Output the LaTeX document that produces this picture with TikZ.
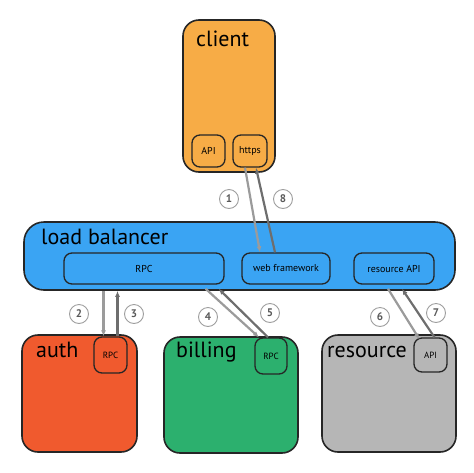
\documentclass[tikz,border=0pt]{standalone}
\usepackage{fontspec}
\setmainfont{PT Sans}
\usetikzlibrary{calc, arrows.meta, positioning}

\definecolor{clientc}{RGB}{247,172,70}
\definecolor{lbc}{RGB}{58,164,243}
\definecolor{authc}{RGB}{240,90,46}
\definecolor{billc}{RGB}{44,176,110}
\definecolor{resc}{RGB}{182,182,182}
\definecolor{reqc}{RGB}{155,155,155}
\definecolor{respc}{RGB}{110,110,110}

\tikzset{
    box/.style={draw=black!85, line width=1.6pt, rounded corners=16pt, inner sep=0pt},
    port/.style={draw=black!85, line width=1.3pt, rounded corners=8pt, inner sep=0pt, font=\fontsize{10}{12}\selectfont},
    title/.style={inner sep=0pt, anchor=base west, font=\fontsize{22}{24}\selectfont},
    req/.style={-{Latex[length=6pt,width=5pt]}, draw=reqc, line width=2.2pt},
    resp/.style={-{Latex[length=6pt,width=5pt]}, draw=respc, line width=2.2pt},
    stepnum/.style={circle, draw=gray!75, line width=0.9pt, fill=white, text=black!65, minimum size=19pt, inner sep=0pt, font=\fontsize{11}{12}\selectfont\bfseries}
}

\begin{document}
\begin{tikzpicture}[x=1pt, y=-1pt]
\useasboundingbox (0,0) rectangle (474,472);

% services
\node[box, fill=clientc, minimum width=92pt, minimum height=152pt] (client) at (229,96) {};
\node[box, fill=lbc, rounded corners=20pt, minimum width=431pt, minimum height=68pt] (lb) at (239.5,256) {};
\node[box, fill=authc, minimum width=115pt, minimum height=117pt] (auth) at (79.5,393.5) {};
\node[box, fill=billc, minimum width=134pt, minimum height=116pt] (billing) at (231,395) {};
\node[box, fill=resc, minimum width=134pt, minimum height=117pt] (resource) at (389,393.5) {};

\node[title] (client-t) at (196,46) {client};
\node[title] (lb-t) at (41,244) {load balancer};
\node[title] (auth-t) at (36,357) {auth};
\node[title] (billing-t) at (176,357) {billing};
\node[title] (resource-t) at (327,357) {resource};

% ports
\node[port, fill=clientc, minimum width=33pt, minimum height=32pt] (client-api) at (208.5,151) {API};
\node[port, fill=clientc, minimum width=34pt, minimum height=32pt] (https) at (250,151) {https};
\node[port, fill=lbc, minimum width=160pt, minimum height=31pt] (lb-rpc) at (144,268.5) {RPC};
\node[port, fill=lbc, minimum width=88pt, minimum height=31pt] (web) at (286,268.5) {web framework};
\node[port, fill=lbc, minimum width=80pt, minimum height=31pt] (res-api) at (394,268.5) {resource API};
\node[port, fill=authc, minimum width=33pt, minimum height=36pt, font=\fontsize{9}{10}\selectfont] (auth-rpc) at (110.5,355) {RPC};
\node[port, fill=billc, minimum width=32pt, minimum height=36pt, font=\fontsize{9}{10}\selectfont] (billing-rpc) at (271,356) {RPC};
\node[port, fill=resc, minimum width=33pt, minimum height=34pt, font=\fontsize{9}{10}\selectfont] (resource-api) at (430.5,355) {API};

% calls
\draw[req] ($(https.south)+(-5,0)$) -- ($(web.north)+(-26,0)$);
\draw[resp] ($(web.north)+(-11,0)$) -- ($(https.south)+(6,0)$);
\draw[req] ($(lb.south -| auth-rpc.north)+(-7,0)$) -- ($(auth-rpc.north)+(-7,0)$);
\draw[resp] ($(auth-rpc.north)+(7,0)$) -- ($(lb.south -| auth-rpc.north)+(7,0)$);
\draw[req] ($(lb.south -| lb-rpc.south east)+(-19,-2)$) -- ($(billing-rpc.north)+(-12,0)$);
\draw[resp] ($(billing-rpc.north)+(-3,0)$) -- ($(lb.south -| lb-rpc.south east)+(-6,-2)$);
\draw[req] ($(lb.south -| res-api.south)+(-6,-2)$) -- ($(resource-api.north)+(-11,2)$);
\draw[resp] ($(resource-api.north)+(4,0)$) -- ($(lb.south -| res-api.south)+(8,-2)$);

\node[stepnum] (s1) at (229,199) {1};
\node[stepnum] (s8) at (283,199) {8};
\node[stepnum] (s2) at (79,314) {2};
\node[stepnum] (s3) at (134,314) {3};
\node[stepnum] (s4) at (208,317) {4};
\node[stepnum] (s5) at (270,313) {5};
\node[stepnum] (s6) at (380,317) {6};
\node[stepnum] (s7) at (436,313) {7};

\end{tikzpicture}
\end{document}
